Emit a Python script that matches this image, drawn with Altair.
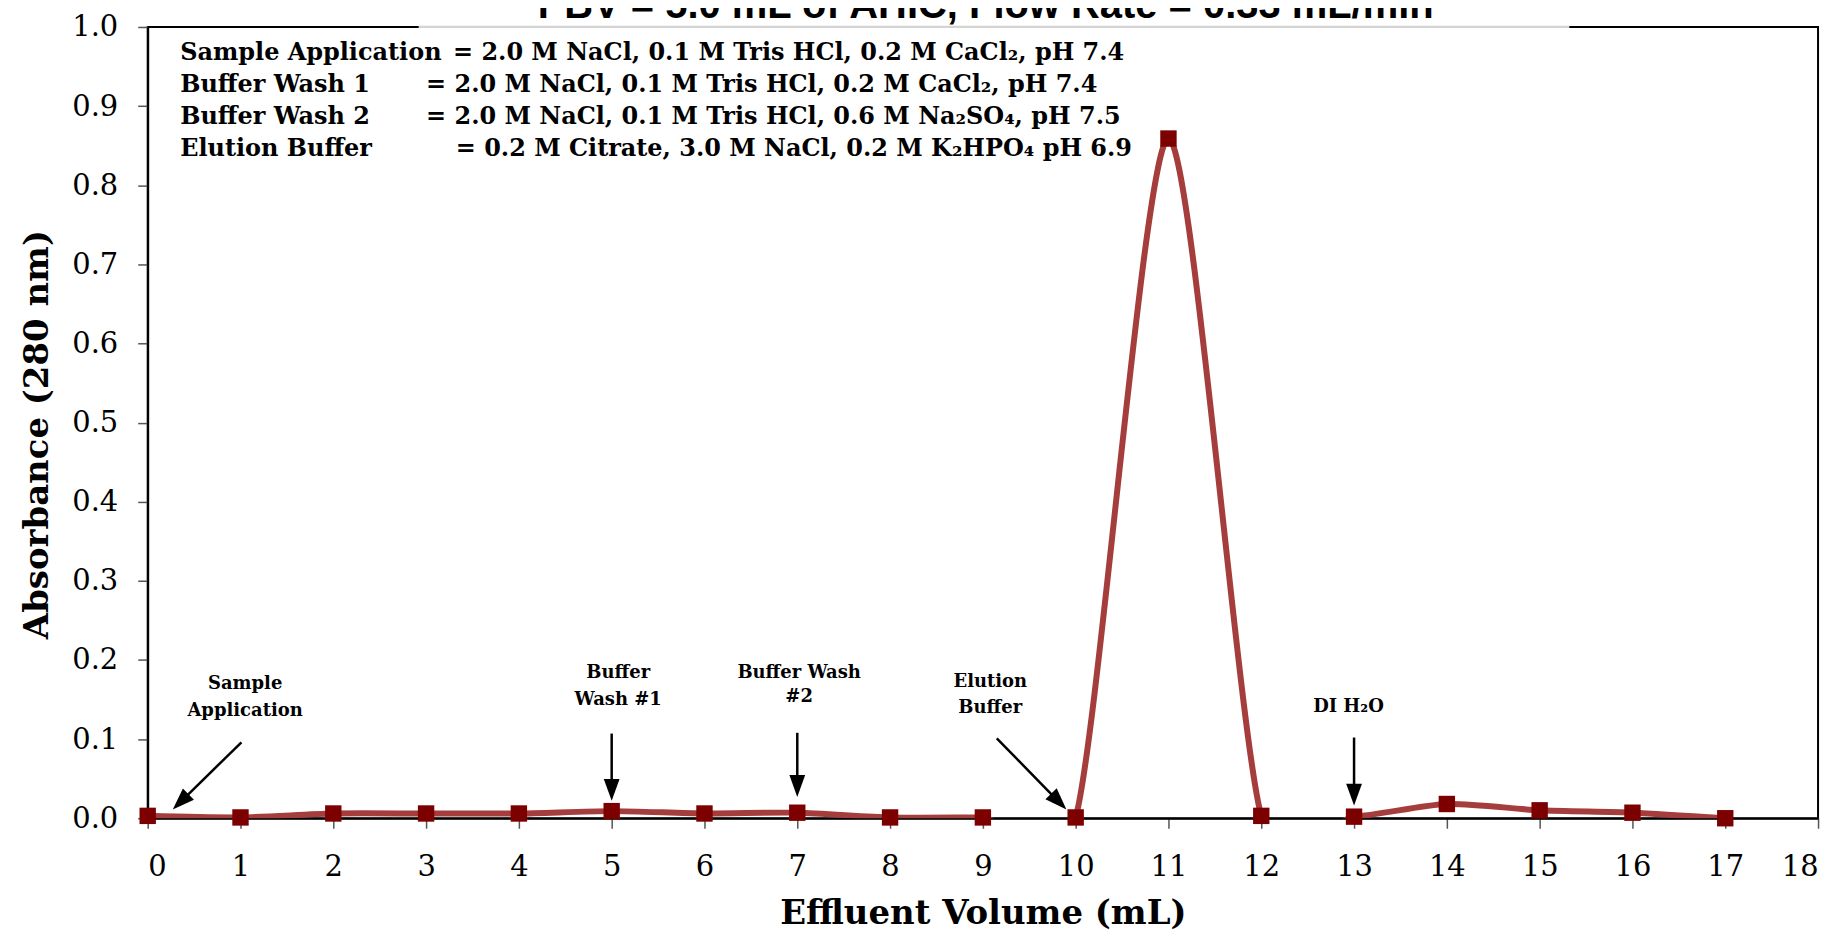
import math
import altair as alt
import pandas as pd

# ---------------- data ----------------
volume = list(range(18))
absorbance = [0.003, 0.001, 0.006, 0.006, 0.006, 0.009, 0.006, 0.007, 0.001,
              0.001, 0.001, 0.859, 0.003, 0.002, 0.018, 0.010, 0.007, 0.0]

x_ticks = list(range(19))
y_ticks = [round(i * 0.1, 1) for i in range(11)]

title_text = "PBV = 5.0 mL of AHIC, Flow Rate = 0.33 mL/min"
title_x = [9.03]
title_y = [1.0114]

buffer_names = ["Sample Application", "Buffer Wash 1", "Buffer Wash 2", "Elution Buffer"]
buffer_recipes = ["= 2.0 M NaCl, 0.1 M Tris HCl, 0.2 M CaCl₂, pH 7.4",
                  "= 2.0 M NaCl, 0.1 M Tris HCl, 0.2 M CaCl₂, pH 7.4",
                  "= 2.0 M NaCl, 0.1 M Tris HCl, 0.6 M Na₂SO₄, pH 7.5",
                  "= 0.2 M Citrate, 3.0 M NaCl, 0.2 M K₂HPO₄ pH 6.9"]
name_x = [0.35, 0.35, 0.35, 0.35]
recipe_x = [3.29, 3.0, 3.0, 3.32]
block_y = [0.967, 0.927, 0.886, 0.846]

label_lines = ["Sample", "Application", "Buffer", "Wash #1", "Buffer Wash", "#2",
               "Elution", "Buffer", "DI H₂O"]
label_x = [1.05, 1.05, 5.07, 5.07, 7.02, 7.02, 9.08, 9.08, 12.94]
label_y = [0.170, 0.136, 0.183, 0.150, 0.183, 0.153, 0.172, 0.139, 0.141]

arrow_x_tail = [1.01, 5.0, 7.0, 9.15, 13.0]
arrow_y_tail = [0.096, 0.107, 0.108, 0.101, 0.102]
arrow_x_tip = [0.27, 5.0, 7.0, 9.90, 13.0]
arrow_y_tip = [0.011, 0.022, 0.027, 0.011, 0.016]

# top frame segment hidden behind the (cropped) title box
cover_x = [2.92]
cover_x2 = [15.32]
cover_y = [1.0]

# ---------------- layout ----------------
W, H = 1674, 793
PX = W / 18.0
PY = H / 1.0
HEAD = 22.0

SERIF = "DejaVu Serif"

x_scale = alt.Scale(domain=[0, 18], nice=False, zero=False)
y_scale = alt.Scale(domain=[0, 1], nice=False, zero=False)

main_df = pd.DataFrame({"v": volume, "a": absorbance})

# arrows: rule shaft + rotated triangular head
rows = []
for xt, yt, xh, yh in zip(arrow_x_tail, arrow_y_tail, arrow_x_tip, arrow_y_tip):
    dxp = (xh - xt) * PX
    dyp = -(yh - yt) * PY  # screen y downwards
    length = math.hypot(dxp, dyp)
    ux, uy = dxp / length, dyp / length
    ang = math.degrees(math.atan2(-ux, uy)) % 360
    frac = (length - HEAD * 0.7) / length
    rows.append({"x": xt, "y": yt,
                 "x2": xt + (xh - xt) * frac, "y2": yt + (yh - yt) * frac,
                 "hx": xh, "hy": yh, "ang": ang})
arrow_df = pd.DataFrame(rows)

x_axis = alt.Axis(values=x_ticks, format="d", title="Effluent Volume (mL)",
                  grid=False, labelFont=SERIF, labelFontSize=29, labelColor="black",
                  labelPadding=24, tickSize=10, tickColor="#555555", tickWidth=1.5,
                  domainColor="black", domainWidth=2,
                  titleFont=SERIF, titleFontSize=34, titleFontWeight="bold",
                  titleColor="black", titleY=105, titleBaseline="alphabetic")
y_axis = alt.Axis(values=y_ticks, format=".1f", title="Absorbance (280 nm)",
                  grid=False, labelFont=SERIF, labelFontSize=29, labelColor="black",
                  labelPadding=20, tickSize=10, tickColor="#555555", tickWidth=1.5,
                  domainColor="black", domainWidth=2,
                  titleFont=SERIF, titleFontSize=34, titleFontWeight="bold",
                  titleColor="black", titleX=-110, titleY=408, titleBaseline="middle",
                  titleAngle=270)

line = alt.Chart(main_df).mark_line(
    interpolate="cardinal", tension=0.25, color="#a63d3d", strokeWidth=6, clip=True
).encode(
    x=alt.X("v:Q", scale=x_scale, axis=x_axis),
    y=alt.Y("a:Q", scale=y_scale, axis=y_axis),
)

points = alt.Chart(main_df).mark_point(
    shape="square", filled=True, color="#7d0000", size=270, opacity=1
).encode(x=alt.X("v:Q", scale=x_scale), y=alt.Y("a:Q", scale=y_scale))

shafts = alt.Chart(arrow_df).mark_rule(color="black", strokeWidth=2.5).encode(
    x=alt.X("x:Q", scale=x_scale), y=alt.Y("y:Q", scale=y_scale),
    x2="x2:Q", y2="y2:Q")

heads = alt.Chart(arrow_df).mark_point(
    shape="M0,0 L-0.36,-1 L0.36,-1 Z", filled=True, color="black",
    size=(2 * HEAD) ** 2, opacity=1, strokeWidth=0
).encode(x=alt.X("hx:Q", scale=x_scale), y=alt.Y("hy:Q", scale=y_scale),
         angle=alt.Angle("ang:Q", scale=None))

labels_df = pd.DataFrame({"t": label_lines, "x": label_x, "y": label_y})
labels = alt.Chart(labels_df).mark_text(
    font=SERIF, fontSize=18, fontWeight="bold", color="black",
    align="center", baseline="middle"
).encode(x=alt.X("x:Q", scale=x_scale), y=alt.Y("y:Q", scale=y_scale), text="t:N")

names_df = pd.DataFrame({"t": buffer_names, "x": name_x, "y": block_y})
names = alt.Chart(names_df).mark_text(
    font=SERIF, fontSize=24, fontWeight="bold", color="black",
    align="left", baseline="middle"
).encode(x=alt.X("x:Q", scale=x_scale), y=alt.Y("y:Q", scale=y_scale), text="t:N")

recipes_df = pd.DataFrame({"t": buffer_recipes, "x": recipe_x, "y": block_y})
recipes = alt.Chart(recipes_df).mark_text(
    font=SERIF, fontSize=24, fontWeight="bold", color="black",
    align="left", baseline="middle"
).encode(x=alt.X("x:Q", scale=x_scale), y=alt.Y("y:Q", scale=y_scale), text="t:N")

cover_df = pd.DataFrame({"x": cover_x, "x2": cover_x2, "y": cover_y})
cover = alt.Chart(cover_df).mark_rule(color="#d4d4d4", strokeWidth=2.2).encode(
    x=alt.X("x:Q", scale=x_scale), x2="x2:Q", y=alt.Y("y:Q", scale=y_scale))

title_df = pd.DataFrame({"t": [title_text], "x": title_x, "y": title_y})
title = alt.Chart(title_df).mark_text(
    font="Liberation Sans", fontSize=40, fontWeight="bold", color="black",
    align="center", baseline="alphabetic", clip=False
).encode(x=alt.X("x:Q", scale=x_scale), y=alt.Y("y:Q", scale=y_scale), text="t:N")

chart = alt.layer(line, points, shafts, heads, labels, names, recipes, cover, title).properties(
    width=W, height=H,
    autosize=alt.AutoSizeParams(type="none"),
    padding={"left": 140, "top": 18, "right": 20, "bottom": 114},
    background="white",
).configure_view(stroke="black", strokeWidth=2)

chart.save("out.html", embed_options={"renderer": "svg", "actions": False})
